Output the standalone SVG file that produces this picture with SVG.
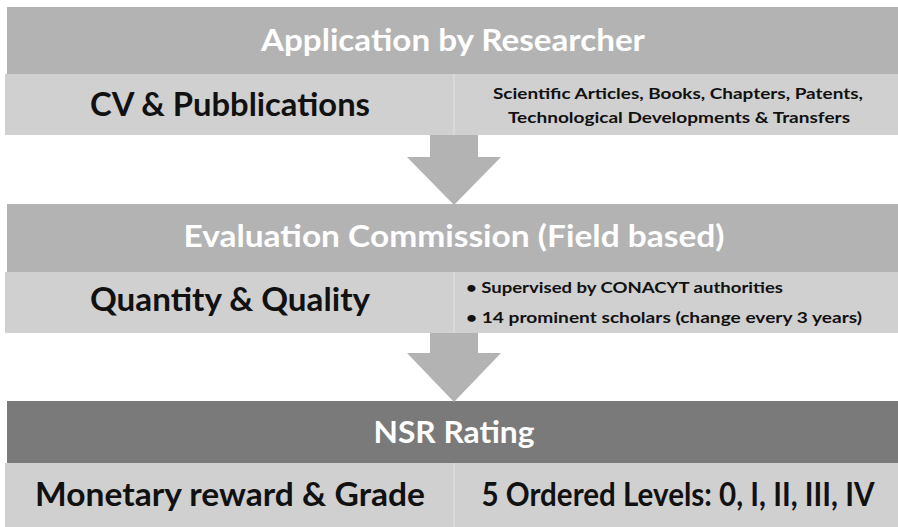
<svg xmlns="http://www.w3.org/2000/svg" width="898" height="527" viewBox="0 0 898 527">
  <style>
    text { font-family: Lato, "Open Sans", "Liberation Sans", sans-serif; font-weight: bold; }
    .hdr { fill: #b3b3b3; }
    .hdr-dark { fill: #7a7a7a; }
    .cell { fill: #d0d0d0; }
    .sep { stroke: #dcdcdc; stroke-width: 1.5; }
    .title { fill: #ffffff; font-size: 31px; text-anchor: middle; }
    .big { fill: #111111; font-size: 32px; text-anchor: middle; }
    .small { fill: #111111; font-size: 16px; text-anchor: middle; }
    .bullet { fill: #111111; font-size: 16px; }
    .arrow { fill: #b3b3b3; }
  </style>

  <rect width="898" height="527" fill="#ffffff"/>

  <!-- stage 1: application -->
  <g id="application-header">
    <rect class="hdr" x="7" y="7" width="891" height="67"/>
    <text class="title" x="453" y="51" textLength="384" lengthAdjust="spacingAndGlyphs">Application by Researcher</text>
  </g>
  <g id="cv-publications">
    <rect class="cell" x="5" y="74" width="449" height="61"/>
    <text class="big" x="230" y="116" textLength="280" lengthAdjust="spacingAndGlyphs">CV &amp; Pubblications</text>
  </g>
  <g id="publication-types">
    <rect class="cell" x="454" y="74" width="444" height="61"/>
    <line class="sep" x1="454" y1="74" x2="454" y2="135"/>
    <text class="small" x="678" y="99" textLength="370" lengthAdjust="spacingAndGlyphs">Scientific Articles, Books, Chapters, Patents,</text>
    <text class="small" x="679" y="123" textLength="342" lengthAdjust="spacingAndGlyphs">Technological Developments &amp; Transfers</text>
  </g>

  <!-- stage 2: evaluation -->
  <g id="evaluation-header">
    <rect class="hdr" x="7" y="204" width="891" height="68"/>
    <text class="title" x="454" y="247" textLength="541" lengthAdjust="spacingAndGlyphs">Evaluation Commission (Field based)</text>
  </g>
  <g id="quantity-quality">
    <rect class="cell" x="5" y="272" width="449" height="61"/>
    <text class="big" x="230" y="311" textLength="280" lengthAdjust="spacingAndGlyphs">Quantity &amp; Quality</text>
  </g>
  <g id="commission-notes">
    <rect class="cell" x="454" y="272" width="444" height="61"/>
    <line class="sep" x1="454" y1="272" x2="454" y2="333"/>
    <text class="bullet" x="466" y="293" textLength="317" lengthAdjust="spacingAndGlyphs">• Supervised by CONACYT authorities</text>
    <text class="bullet" x="466" y="323" textLength="396" lengthAdjust="spacingAndGlyphs">• 14 prominent scholars (change every 3 years)</text>
  </g>

  <!-- stage 3: rating -->
  <g id="nsr-header">
    <rect class="hdr-dark" x="7" y="401" width="891" height="62"/>
    <text class="title" x="454" y="443" textLength="161" lengthAdjust="spacingAndGlyphs">NSR Rating</text>
  </g>
  <g id="reward-grade">
    <rect class="cell" x="5" y="463" width="449" height="64"/>
    <text class="big" x="230" y="506" textLength="390" lengthAdjust="spacingAndGlyphs">Monetary reward &amp; Grade</text>
  </g>
  <g id="levels">
    <rect class="cell" x="454" y="463" width="444" height="64"/>
    <line class="sep" x1="454" y1="463" x2="454" y2="527"/>
    <text class="big" x="678" y="506" font-size="29" textLength="393" lengthAdjust="spacingAndGlyphs">5 Ordered Levels: 0, I, II, III, IV</text>
  </g>

  <!-- flow arrows between stages -->
  <g id="connectors">
    <polygon class="arrow" points="430,135 478,135 478,157 501,157 454,205 407,157 430,157"/>
    <polygon class="arrow" points="430,333 478,333 478,353 501,353 454,402 407,353 430,353"/>
  </g>
</svg>
